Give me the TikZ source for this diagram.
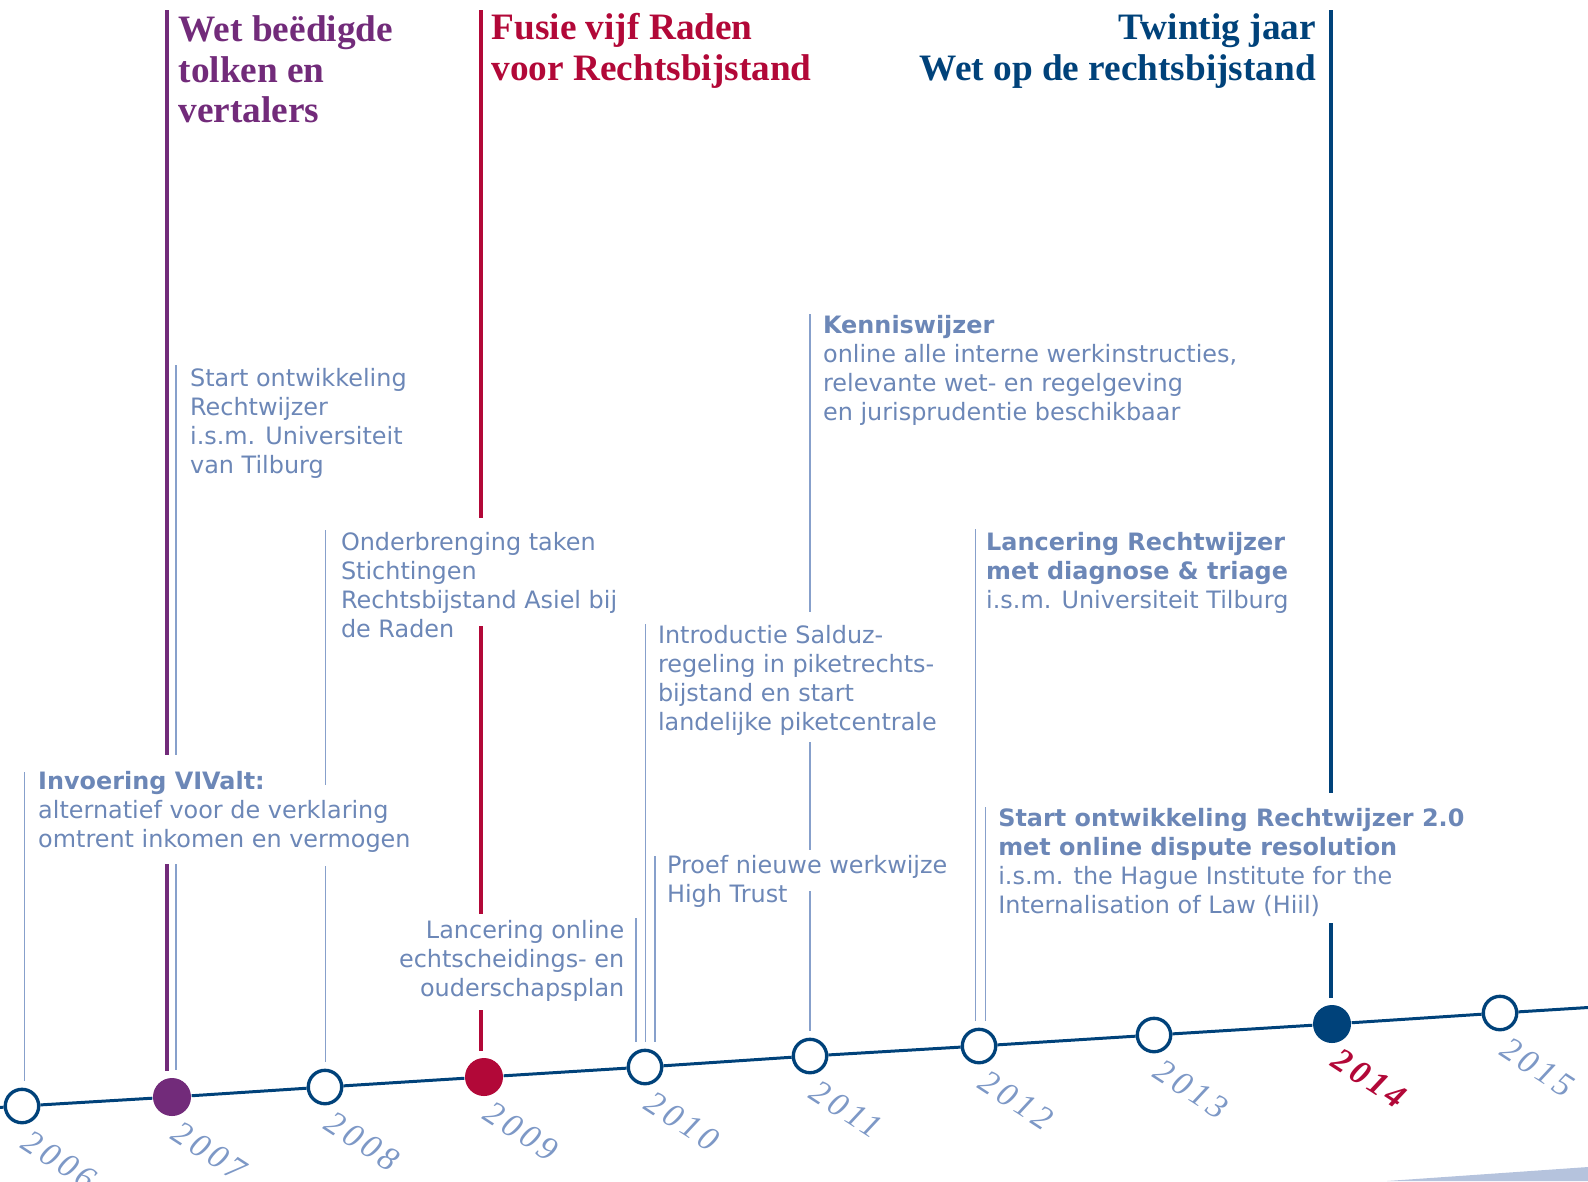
\documentclass[tikz,border=0pt]{standalone}
\usepackage{fontspec}
\setmainfont{Liberation Serif}
\newfontfamily\verdana{DejaVu Sans}
\usetikzlibrary{positioning}

\definecolor{paars}{HTML}{722B7A}
\definecolor{rood}{HTML}{B20838}
\definecolor{navy}{HTML}{00427A}
\definecolor{tekstblauw}{HTML}{6C87B7}
\definecolor{lijnblauw}{HTML}{87A0CB}
\definecolor{jaarblauw}{HTML}{7D98C6}
\definecolor{vlak}{HTML}{B5C3DD}

\begin{document}
\begin{tikzpicture}[x=0.01cm, y=-0.01cm,
                    dik/.style={line width=1.35pt},
                    dun/.style={line width=0.5pt, draw=lijnblauw}]
  \tikzstyle{jaar}=[circle,draw=navy,fill=white,line width=0.95pt,minimum size=0.334cm,inner sep=0pt]
  \tikzstyle{mijlpaal}=[circle,minimum size=0.38cm,inner sep=0pt]
  \tikzstyle{jaartal}=[anchor=north west,rotate=-33,inner sep=0pt,text=jaarblauw,
                       font=\itshape\fontsize{9.6}{9.6}\selectfont\addfontfeature{LetterSpace=12}]
  \tikzstyle{tekst}=[anchor=north west,align=left,inner sep=0pt,text=tekstblauw,
                     font=\verdana\fontsize{6.8}{8.25}\selectfont]
  \tikzstyle{kop}=[anchor=north west,align=left,inner sep=0pt,
                   font=\bfseries\fontsize{10.6}{11.55}\selectfont]

  \useasboundingbox (0,0) rectangle (1588,1181);
  \fill[vlak] (1387,1181) -- (1588,1167) -- (1588,1181) -- cycle;

  % jaren op de tijdlijn
  \node[jaar]                  (c2006) at (22,1106)  {};
  \node[mijlpaal, fill=paars]  (c2007) at (172,1097) {};
  \node[jaar]                  (c2008) at (325,1087) {};
  \node[mijlpaal, fill=rood]   (c2009) at (484,1077) {};
  \node[jaar]                  (c2010) at (645,1067) {};
  \node[jaar]                  (c2011) at (810,1056) {};
  \node[jaar]                  (c2012) at (979,1046) {};
  \node[jaar]                  (c2013) at (1154,1035) {};
  \node[mijlpaal, fill=navy]   (c2014) at (1332,1024) {};
  \node[jaar]                  (c2015) at (1500,1013) {};
  \coordinate (links)  at (0,1107.4);
  \coordinate (rechts) at (1588,1007.5);

  \draw[navy, line width=0.85pt] (links) -- (c2006) -- (c2007) -- (c2008) -- (c2009) -- (c2010)
        -- (c2011) -- (c2012) -- (c2013) -- (c2014) -- (c2015) -- (rechts);

  \node[jaartal] (l2006) at (32,1128)  {2006};
  \node[jaartal] (l2007) at (182,1119) {2007};
  \node[jaartal] (l2008) at (335,1109) {2008};
  \node[jaartal] (l2009) at (494,1099) {2009};
  \node[jaartal] (l2010) at (655,1089) {2010};
  \node[jaartal] (l2011) at (820,1078) {2011};
  \node[jaartal] (l2012) at (989,1068) {2012};
  \node[jaartal] (l2013) at (1164,1057) {2013};
  \node[jaartal, text=rood, font=\bfseries\itshape\fontsize{9.6}{9.6}\selectfont\addfontfeature{LetterSpace=12}]
        (l2014) at (1342,1046) {2014};
  \node[jaartal] (l2015) at (1510,1035) {2015};

  % koppen
  \node[kop, text=paars] (tolken) at (178,15) {Wet beëdigde\\tolken en\\vertalers};
  \node[kop, text=rood]  (fusie)  at (491,13) {Fusie vijf Raden\\voor Rechtsbijstand};
  \node[kop, text=navy, anchor=north east, align=right] (twintig) at (1316.6,13)
        {Twintig jaar\\Wet op de rechtsbijstand};

  % teksten
  \node[tekst] (invoering) at (37.5,771)
        {\textbf{Invoering VIValt:}\\alternatief voor de verklaring\\omtrent inkomen en vermogen};
  \node[tekst] (rechtwijzer) at (189.4,368)
        {Start ontwikkeling\\Rechtwijzer\\i.s.m. Universiteit\\van Tilburg};
  \node[tekst] (onderbrenging) at (340.3,532)
        {Onderbrenging taken\\Stichtingen\\Rechtsbijstand Asiel bij\\de Raden};
  \node[tekst, anchor=north east, align=right] (lancering) at (625,920)
        {Lancering online\\echtscheidings- en\\ouderschapsplan};
  \node[tekst] (salduz) at (657.3,625)
        {Introductie Salduz-\\regeling in piketrechts-\\bijstand en start\\landelijke piketcentrale};
  \node[tekst] (proef) at (666.4,855) {Proef nieuwe werkwijze\\High Trust};
  \node[tekst] (kennis) at (822.4,315)
        {\textbf{Kenniswijzer}\\online alle interne werkinstructies,\\relevante wet- en regelgeving\\en jurisprudentie beschikbaar};
  \node[tekst] (triage) at (985.5,532)
        {\textbf{Lancering Rechtwijzer}\\\textbf{met diagnose \& triage}\\i.s.m. Universiteit Tilburg};
  \node[tekst] (hiil) at (997.6,807.6)
        {\textbf{Start ontwikkeling Rechtwijzer 2.0}\\\textbf{met online dispute resolution}\\i.s.m. the Hague Institute for the\\Internalisation of Law (Hiil)};

  % verticale lijnen
  \draw[dik, paars] (167,10) -- (167,755);
  \draw[dik, paars, shorten >=0.06cm] (167,864) -- (167,864 |- c2007.north);
  \draw[dun] (176,365) -- (176,755);
  \draw[dun, shorten >=0.07cm] (176,864) -- (176,864 |- c2007.north);
  \draw[dun, shorten >=0.07cm] (24.5,772) -- (24.5,772 |- c2006.north);
  \draw[dun] (325.5,530) -- (325.5,785);
  \draw[dun, shorten >=0.07cm] (325.5,866) -- (325.5,866 |- c2008.north);
  \draw[dik, rood] (481,10) -- (481,518);
  \draw[dik, rood] (481,626) -- (481,914);
  \draw[dik, rood, shorten >=0.06cm] (481,1010) -- (481,1010 |- c2009.north);
  \draw[dun, shorten >=0.07cm] (636,918) -- (636,918 |- c2010.north);
  \draw[dun, shorten >=0.07cm] (645.5,624) -- (645.5,624 |- c2010.north);
  \draw[dun, shorten >=0.07cm] (655,856) -- (655,856 |- c2010.north);
  \draw[dun] (810,314) -- (810,612);
  \draw[dun] (810,742) -- (810,850);
  \draw[dun, shorten >=0.07cm] (810,891) -- (810,891 |- c2011.north);
  \draw[dun, shorten >=0.07cm] (975.5,529) -- (975.5,529 |- c2012.north);
  \draw[dun, shorten >=0.07cm] (985.5,807) -- (985.5,807 |- c2012.north);
  \draw[dik, navy] (1331,10) -- (1331,793);
  \draw[dik, navy, shorten >=0.06cm] (1331,923) -- (1331,923 |- c2014.north);
\end{tikzpicture}
\end{document}
